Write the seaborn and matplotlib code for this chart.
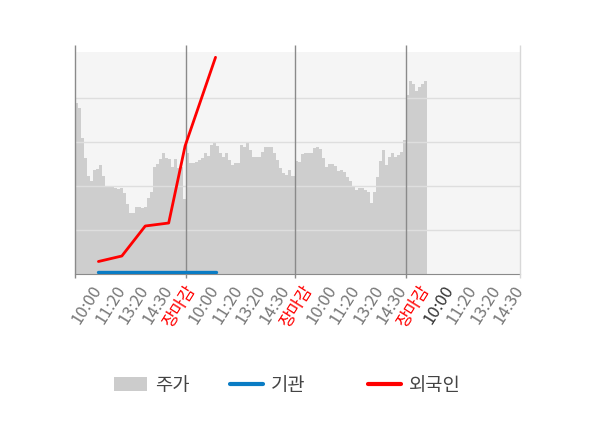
import matplotlib
matplotlib.use("Agg")
import matplotlib.pyplot as plt
from matplotlib.lines import Line2D
from matplotlib.patches import Patch
import numpy as np
import seaborn as sns

# price samples (relative level), one per time slot, four sessions
price_day1 = [3.89, 3.77, 3.09, 2.64, 2.23, 2.11, 2.36, 2.39, 2.48, 2.23,
              1.99, 1.98, 1.98, 1.95, 1.93, 1.95, 1.83, 1.59, 1.39, 1.39,
              1.52, 1.53, 1.50, 1.52, 1.72, 1.86, 2.44, 2.50, 2.61, 2.74,
              2.63, 2.61, 2.43, 2.61, 2.41, 2.43, 1.70]
price_day2 = [2.75, 2.52, 2.52, 2.55, 2.59, 2.63, 2.74, 2.68, 2.93, 2.98,
              2.91, 2.74, 2.67, 2.74, 2.59, 2.48, 2.52, 2.52, 2.93, 2.89,
              2.98, 2.82, 2.67, 2.66, 2.67, 2.78, 2.89, 2.89, 2.89, 2.74,
              2.59, 2.40, 2.29, 2.25, 2.36, 2.23]
price_day3 = [2.57, 2.55, 2.73, 2.74, 2.74, 2.74, 2.86, 2.88, 2.84, 2.64,
              2.44, 2.49, 2.49, 2.45, 2.34, 2.36, 2.32, 2.20, 2.11, 2.00,
              1.91, 1.95, 1.95, 1.91, 1.87, 1.61, 1.86, 2.20, 2.57, 2.82,
              2.48, 2.66, 2.74, 2.66, 2.70, 2.77, 3.05]
price_day4 = [4.07, 4.39, 4.32, 4.16, 4.24, 4.32, 4.39]
day4_slots = 38

# cumulative net buying by investor type
investor_pos = [1, 2, 3, 4, 4.7, 6]
foreign_net = [1050, 1600, 4600, 4900, 12600, 21470]
institution_net = [0, 0, 0, 0, 0, 0]

tick_labels = ["10:00", "11:20", "13:20", "14:30", "장마감",
               "10:00", "11:20", "13:20", "14:30", "장마감",
               "10:00", "11:20", "13:20", "14:30", "장마감",
               "10:00", "11:20", "13:20", "14:30"]

sns.set_style("white")
plt.rcParams["font.family"] = ["Noto Sans CJK KR", "DejaVu Sans"]

days = [price_day1, price_day2, price_day3, price_day4]
price = np.concatenate(days)
day_starts = np.cumsum([0] + [len(d) for d in days[:3]])
total_slots = day_starts[-1] + day4_slots

fig = plt.figure(figsize=(6, 4.28), dpi=100)
rect = [0.125, 0.3598, 0.7417, 0.5187]

# price area
ax = fig.add_axes(rect)
ax.set_facecolor("#f5f5f5")
idx = np.arange(len(price) + 1)
ax.fill_between(idx, np.append(price, price[-1]), 0, step="post",
                color="#cecece", lw=0, zorder=1)
ax.set_xlim(0, total_slots)
ax.set_ylim(0, 5.045)
for level in [1, 2, 3, 4]:
    ax.axhline(level, color="#dedede", lw=1, zorder=2)
ax.vlines(list(day_starts), -0.018, 1.032, transform=ax.get_xaxis_transform(),
          clip_on=False, color="#8a8a8a", lw=1, zorder=3)
ax.vlines([total_slots], -0.018, 1.032, transform=ax.get_xaxis_transform(),
          clip_on=False, color="#d8d8d8", lw=1, zorder=3)
for side in ["top", "left", "right"]:
    ax.spines[side].set_visible(False)
ax.spines["bottom"].set_color("#8a8a8a")
ax.set_xticks([])
ax.set_yticks([])

# investor lines on an overlay
ax2 = fig.add_axes(rect)
ax2.set_facecolor("none")
sns.lineplot(x=investor_pos, y=institution_net, color="#0a7cc4", lw=2.4, ax=ax2)
sns.lineplot(x=investor_pos, y=foreign_net, color="#ff0000", lw=2, ax=ax2)
ax2.set_xlim(0, 19)
ax2.set_ylim(-200, 22000)
for side in ax2.spines.values():
    side.set_visible(False)
ax2.set_yticks([])
ax2.set_xticks(range(1, 20))
ax2.set_xticklabels(tick_labels, rotation=58, ha="right", va="center",
                    rotation_mode="anchor", fontsize=12)
ax2.tick_params(axis="x", length=0, pad=9)
for i, lab in enumerate(ax2.get_xticklabels()):
    if lab.get_text() == "장마감":
        lab.set_color("#ff0000")
    elif i == 15:
        lab.set_color("#333333")
    else:
        lab.set_color("#777777")
ax2.set_xlabel("")
ax2.set_ylabel("")

# legend entries
entries = [
    (Patch(facecolor="#cccccc", edgecolor="none"), "주가", 114),
    (Line2D([], [], color="#0a7cc4", lw=3), "기관", 230),
    (Line2D([], [], color="#ff0000", lw=3), "외국인", 368),
]
for handle, text, left in entries:
    leg = fig.legend([handle], [text], loc="center left",
                     bbox_to_anchor=(left / 600, 1 - 385 / 428),
                     frameon=False, fontsize=13.5, borderpad=0,
                     borderaxespad=0, handlelength=1.75, handleheight=0.75,
                     handletextpad=0.45)
    for t in leg.get_texts():
        t.set_color("#444444")

fig.savefig("out.png", dpi=100)
